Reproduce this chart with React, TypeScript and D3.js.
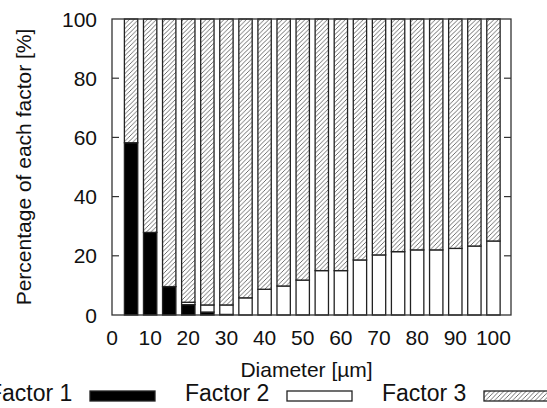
import React from 'react';
import * as d3 from 'd3';

// diameters in µm, one stacked bar each
const diameters = [5, 10, 15, 20, 25, 30, 35, 40, 45, 50, 55, 60, 65, 70, 75, 80, 85, 90, 95, 100];
const factor1 = [58.2, 27.9, 9.6, 3.5, 1.0, 0.2, 0, 0, 0, 0, 0, 0, 0, 0, 0, 0, 0, 0, 0, 0];
const factor2 = [0, 0, 0, 0.8, 2.4, 3.2, 5.8, 8.7, 9.8, 11.8, 15.0, 15.0, 18.6, 20.3, 21.4, 22.0, 22.0, 22.5, 23.3, 25.0];
const factor3 = [41.8, 72.1, 90.4, 95.7, 96.6, 96.6, 94.2, 91.3, 90.2, 88.2, 85.0, 85.0, 81.4, 79.7, 78.6, 78.0, 78.0, 77.5, 76.7, 75.0];
const seriesNames = ['Factor 1', 'Factor 2', 'Factor 3'];
const xTicks = [0, 10, 20, 30, 40, 50, 60, 70, 80, 90, 100];
const yTicks = [0, 20, 40, 60, 80, 100];

const W = 547;
const H = 408;
const margin = { top: 19, right: 36, bottom: 93, left: 112 };
const font = '"Liberation Sans", Arial, Helvetica, sans-serif';

export default function App() {
  const width = W - margin.left - margin.right;
  const height = H - margin.top - margin.bottom;

  const x = d3.scaleLinear().domain([0, 104.6]).range([0, width]);
  const y = d3.scaleLinear().domain([0, 100]).range([height, 0]);
  const barW = x(3.5) - x(0);

  const rows = diameters.map((d, i) => ({
    d,
    'Factor 1': factor1[i],
    'Factor 2': factor2[i],
    'Factor 3': factor3[i],
  }));
  const stacked = d3.stack<any>().keys(seriesNames)(rows);

  const fills = ['#000', '#fff', 'url(#hatch)'];

  const legendX = [-12, 185, 382];

  return (
    <svg width={W} height={H} style={{ position: 'absolute', left: 0, top: 0, background: '#fff' }}>
      <defs>
        <pattern id="hatch" patternUnits="userSpaceOnUse" width="4.5" height="4.5">
          <rect width="4.5" height="4.5" fill="#fff" />
          <path d="M-1,1 L1,-1 M0,4.5 L4.5,0 M3.5,5.5 L5.5,3.5" stroke="#555" strokeWidth="0.85" />
        </pattern>
      </defs>
      <g transform={`translate(${margin.left},${margin.top})`}>
        {stacked.map((layer, li) => (
          <g key={layer.key}>
            {layer.map((seg, i) => {
              const h = y(seg[0]) - y(seg[1]);
              if (h <= 0) return null;
              return (
                <rect
                  key={i}
                  x={x(diameters[i]) - barW / 2}
                  y={y(seg[1])}
                  width={barW}
                  height={h}
                  fill={fills[li]}
                  stroke="#222"
                  strokeWidth={1.3}
                />
              );
            })}
          </g>
        ))}
        <rect x={0} y={0} width={width} height={height} fill="none" stroke="#333" strokeWidth={1.3} />
        {yTicks.map((t) => (
          <g key={t}>
            {t > 0 && t < 100 && (
              <>
                <line x1={0} x2={7} y1={y(t)} y2={y(t)} stroke="#333" strokeWidth={1.2} />
                <line x1={width - 7} x2={width} y1={y(t)} y2={y(t)} stroke="#333" strokeWidth={1.2} />
              </>
            )}
            <text
              x={-15}
              y={y(t)}
              dy="0.36em"
              textAnchor="end"
              fontFamily={font}
              fontSize={21}
              fill="#111"
            >
              {t}
            </text>
          </g>
        ))}
        {xTicks.map((t) => (
          <text
            key={t}
            x={x(t)}
            y={height + 30}
            textAnchor="middle"
            fontFamily={font}
            fontSize={21}
            fill="#111"
          >
            {t}
          </text>
        ))}
        <text
          x={x(51)}
          y={height + 62}
          textAnchor="middle"
          fontFamily={font}
          fontSize={21}
          fill="#111"
        >
          Diameter [µm]
        </text>
        <text
          transform={`translate(${-89},${height / 2}) rotate(-90)`}
          textAnchor="middle"
          dy="0.36em"
          fontFamily={font}
          fontSize={21}
          fill="#111"
        >
          Percentage of each factor [%]
        </text>
      </g>
      {seriesNames.map((name, i) => (
        <g key={name} transform={`translate(${legendX[i]},0)`}>
          <text x={0} y={401} fontFamily={font} fontSize={23} fill="#111">
            {name}
          </text>
          <rect
            x={102}
            y={391}
            width={65}
            height={10}
            fill={fills[i]}
            stroke="#222"
            strokeWidth={1.3}
          />
        </g>
      ))}
    </svg>
  );
}
